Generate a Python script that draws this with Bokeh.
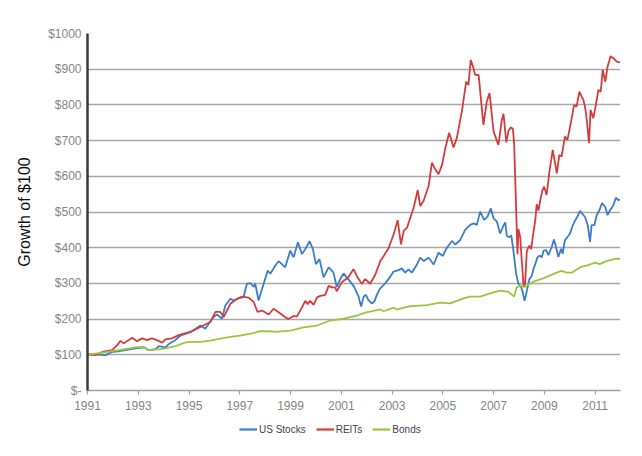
from bokeh.plotting import figure
from bokeh.layouts import column
from bokeh.models import FixedTicker, Legend, LegendItem, Range1d
from bokeh.embed import file_html
from bokeh.resources import INLINE

# ---------------- data ----------------
stocks_t = [1991.0, 1991.3, 1991.71, 1991.97, 1992.25, 1992.5, 1992.89, 1993.22, 1993.41, 1993.68,
            1993.81, 1994.07, 1994.2, 1994.46, 1994.66, 1994.83, 1995.1, 1995.45, 1995.64, 1995.97,
            1996.1, 1996.3, 1996.43, 1996.63, 1996.76, 1996.96, 1997.15, 1997.28, 1997.42, 1997.55,
            1997.61, 1997.74, 1997.94, 1998.1, 1998.2, 1998.4, 1998.53, 1998.66, 1998.79, 1998.99,
            1999.12, 1999.29, 1999.45, 1999.58, 1999.75, 1999.88, 2000.0, 2000.14, 2000.3, 2000.5,
            2000.69, 2000.82, 2001.0, 2001.09, 2001.35, 2001.5, 2001.68, 2001.78, 2001.88, 2001.97,
            2002.07, 2002.2, 2002.3, 2002.4, 2002.53, 2002.73, 2002.93, 2003.06, 2003.25, 2003.38,
            2003.52, 2003.65, 2003.78, 2003.98, 2004.11, 2004.24, 2004.44, 2004.64, 2004.83, 2005.0,
            2005.16, 2005.36, 2005.49, 2005.68, 2005.88, 2006.08, 2006.21, 2006.34, 2006.47, 2006.63,
            2006.76, 2006.89, 2007.0, 2007.13, 2007.26, 2007.39, 2007.46, 2007.52, 2007.6, 2007.7,
            2007.78, 2007.89, 2007.98, 2008.07, 2008.15, 2008.22, 2008.31, 2008.41, 2008.5, 2008.57,
            2008.64, 2008.73, 2008.81, 2008.9, 2008.97, 2009.07, 2009.16, 2009.29, 2009.38, 2009.49,
            2009.55, 2009.66, 2009.72, 2009.81, 2009.91, 2010.01, 2010.12, 2010.22, 2010.33, 2010.4,
            2010.5, 2010.6, 2010.71, 2010.8, 2010.86, 2010.97, 2011.06, 2011.17, 2011.27, 2011.4,
            2011.49, 2011.59, 2011.72, 2011.82, 2011.91, 2011.98]
stocks_v = [100, 101, 99, 108, 110, 113, 118, 121, 113, 116,
            124, 121, 130, 141, 154, 158, 165, 182, 173, 206,
            213, 201, 238, 257, 252, 258, 262, 299, 301, 290,
            299, 252, 299, 336, 327, 350, 362, 354, 345, 392,
            373, 415, 382, 396, 418, 396, 354, 368, 317, 345,
            331, 290, 318, 328, 305, 291, 263, 235, 263, 268,
            253, 244, 249, 268, 286, 300, 319, 333, 337, 342,
            330, 339, 330, 353, 372, 363, 372, 353, 386, 377,
            400, 419, 409, 421, 450, 464, 468, 464, 501, 478,
            487, 510, 482, 473, 440, 462, 471, 434, 429, 434,
            392, 326, 298, 293, 275, 251, 279, 312, 321, 340,
            354, 373, 378, 373, 392, 393, 379, 402, 423, 393,
            374, 397, 383, 421, 430, 439, 463, 477, 491, 503,
            495, 486, 463, 416, 463, 463, 491, 505, 525, 514,
            491, 505, 519, 540, 533, 535]

reits_t = [1991.0, 1991.05, 1991.31, 1991.58, 1991.97, 1992.17, 1992.3, 1992.43, 1992.76, 1992.95,
           1993.15, 1993.35, 1993.54, 1993.74, 1993.94, 1994.07, 1994.33, 1994.59, 1994.83, 1995.05,
           1995.45, 1995.84, 1996.04, 1996.23, 1996.37, 1996.63, 1996.89, 1997.09, 1997.35, 1997.55,
           1997.7, 1997.88, 1998.14, 1998.33, 1998.53, 1998.79, 1998.92, 1999.12, 1999.25, 1999.45,
           1999.58, 1999.67, 1999.77, 1999.91, 2000.04, 2000.17, 2000.37, 2000.5, 2000.63, 2000.76,
           2000.82, 2001.02, 2001.28, 2001.48, 2001.64, 2001.81, 2001.94, 2002.14, 2002.34, 2002.54,
           2002.67, 2002.87, 2003.06, 2003.22, 2003.35, 2003.46, 2003.59, 2003.74, 2003.85, 2004.01,
           2004.11, 2004.24, 2004.44, 2004.57, 2004.70, 2004.83, 2004.97, 2005.1, 2005.25, 2005.42,
           2005.55, 2005.75, 2005.92, 2006.01, 2006.1, 2006.21, 2006.27, 2006.41, 2006.6, 2006.73,
           2006.84, 2007.0, 2007.19, 2007.32, 2007.39, 2007.5, 2007.59, 2007.68, 2007.76, 2007.81,
           2007.89, 2007.94, 2007.98, 2008.05, 2008.11, 2008.18, 2008.24, 2008.31, 2008.41, 2008.48,
           2008.57, 2008.64, 2008.7, 2008.77, 2008.83, 2008.92, 2008.99, 2009.09, 2009.2,
           2009.33, 2009.49, 2009.59, 2009.68, 2009.81, 2009.91, 2010.08, 2010.17, 2010.27, 2010.38,
           2010.47, 2010.54, 2010.61, 2010.67, 2010.76, 2010.82, 2010.93, 2011.03, 2011.13, 2011.22,
           2011.3, 2011.4, 2011.49, 2011.61, 2011.72, 2011.85, 2011.98]
reits_v = [100, 102, 99, 108, 113, 127, 139, 132, 148, 138,
           146, 141, 146, 141, 134, 143, 146, 155, 160, 164,
           178, 192, 220, 220, 206, 243, 257, 263, 260, 248,
           220, 224, 213, 229, 219, 205, 200, 209, 207, 233,
           251, 242, 251, 240, 261, 265, 268, 293, 289, 289,
           278, 303, 317, 340, 317, 298, 312, 299, 325, 363,
           377, 400, 437, 477, 409, 447, 456, 489, 512, 561,
           517, 531, 573, 638, 620, 606, 632, 680, 722, 681,
           707, 781, 865, 856, 926, 903, 884, 884, 744, 809,
           833, 725, 688, 756, 775, 695, 728, 737, 733, 691,
           504, 382, 452, 429, 364, 293, 298, 392, 406, 396,
           443, 476, 522, 504, 530, 560, 571, 548, 613,
           674, 608, 660, 655, 711, 702, 763, 800, 795, 837,
           823, 814, 791, 758, 693, 786, 763, 800, 842, 837,
           898, 865, 907, 936, 931, 921, 919]

bonds_t = [1991.0, 1991.58, 1992.24, 1992.89, 1993.22, 1993.41, 1993.81, 1994.07, 1994.46, 1994.83,
           1995.05, 1995.45, 1995.84, 1996.23, 1996.63, 1997.02, 1997.42, 1997.81, 1998.2, 1998.4,
           1998.99, 1999.51, 2000.04, 2000.56, 2001.09, 2001.61, 2001.94, 2002.54, 2002.67, 2003.06,
           2003.19, 2003.72, 2004.37, 2004.9, 2005.29, 2005.81, 2006.08, 2006.47, 2006.86, 2007.26,
           2007.59, 2007.81, 2007.91, 2008.05, 2008.24, 2008.57, 2008.96, 2009.22, 2009.49, 2009.68,
           2009.88, 2010.08, 2010.27, 2010.47, 2010.67, 2010.8, 2011.0, 2011.19, 2011.39, 2011.59,
           2011.78, 2011.98]
bonds_v = [100, 106, 113, 121, 122, 113, 115, 118, 124, 134,
           136, 136, 140, 145, 150, 154, 159, 166, 166, 164,
           168, 177, 182, 196, 201, 210, 218, 227, 222, 232,
           227, 236, 239, 246, 244, 258, 263, 263, 272, 280,
           276, 263, 289, 293, 290, 305, 314, 322, 330, 335,
           330, 330, 339, 347, 350, 353, 358, 354, 361, 365,
           369, 369]

x_ticks = [1991, 1993, 1995, 1997, 1999, 2001, 2003, 2005, 2007, 2009, 2011]
x_labels = ["1991", "1993", "1995", "1997", "1999", "2001", "2003", "2005", "2007", "2009", "2011"]
y_ticks = [0, 100, 200, 300, 400, 500, 600, 700, 800, 900, 1000]
y_labels = ["$-", "$100", "$200", "$300", "$400", "$500", "$600", "$700", "$800", "$900", "$1000"]

series_names = ["US Stocks", "REITs", "Bonds"]
series_colors = ["#3b7dc8", "#d63b3b", "#9cc43e"]

FONT = "Liberation Sans"

p = figure(width=634, height=416, output_backend="svg", toolbar_location=None,
           x_range=Range1d(1991, 2012), y_range=Range1d(0, 1000),
           min_border_left=87, min_border_right=14, min_border_top=33, min_border_bottom=26)
p.outline_line_color = None
p.background_fill_color = "white"

r_stocks = p.line(stocks_t, stocks_v, line_color=series_colors[0], line_width=1.8)
r_reits = p.line(reits_t, reits_v, line_color=series_colors[1], line_width=1.8)
r_bonds = p.line(bonds_t, bonds_v, line_color=series_colors[2], line_width=1.8)

# y axis
yax = p.yaxis[0]
yax.ticker = FixedTicker(ticks=y_ticks)
yax.major_label_overrides = {t: l for t, l in zip(y_ticks, y_labels)}
yax.major_tick_line_color = None
yax.major_tick_out = 0
yax.major_tick_in = 0
yax.minor_tick_line_color = None
yax.axis_line_color = "#3a3a3a"
yax.axis_line_width = 2.5
yax.major_label_text_color = "#858585"
yax.major_label_text_font = FONT
yax.major_label_text_font_size = "12px"
yax.major_label_standoff = 6
yax.axis_label = "Growth of $100"
yax.axis_label_text_font = FONT
yax.axis_label_text_font_size = "16px"
yax.axis_label_text_font_style = "normal"
yax.axis_label_text_color = "#111111"
yax.axis_label_standoff = 12

# x axis
xax = p.xaxis[0]
xax.ticker = FixedTicker(ticks=x_ticks)
xax.major_label_overrides = {t: l for t, l in zip(x_ticks, x_labels)}
xax.axis_line_color = "#a0a0a0"
xax.axis_line_width = 1.5
xax.major_tick_line_color = "#a0a0a0"
xax.major_tick_line_width = 1.2
xax.major_tick_out = 4
xax.major_tick_in = 0
xax.minor_tick_line_color = None
xax.major_label_text_color = "#858585"
xax.major_label_text_font = FONT
xax.major_label_text_font_size = "12px"
xax.major_label_standoff = 6

p.xgrid.grid_line_color = None
p.ygrid.ticker = FixedTicker(ticks=y_ticks)
p.ygrid.grid_line_color = "#a8a8a8"
p.ygrid.grid_line_width = 1.3

# ---------------- legend strip below the chart ----------------
lg = figure(width=634, height=30, output_backend="svg", toolbar_location=None,
            x_range=Range1d(0, 1), y_range=Range1d(0, 1),
            x_axis_location=None, y_axis_location=None, min_border=0)
lg.outline_line_color = None
lg.grid.visible = False
# same series, drawn outside this strip's visible range: only their legend swatches show
proxies = [lg.line(t, v, line_color=c, line_width=2.2)
           for t, v, c in zip([stocks_t, reits_t, bonds_t], [stocks_v, reits_v, bonds_v], series_colors)]

legend = Legend(items=[LegendItem(label=n, renderers=[r]) for n, r in zip(series_names, proxies)],
                orientation="horizontal", location=(152, 11),
                glyph_width=18, glyph_height=12, label_standoff=2, spacing=10,
                padding=0, margin=0, border_line_color=None, background_fill_alpha=0,
                label_text_font=FONT, label_text_font_size="10px", label_text_color="#444444")
lg.add_layout(legend)

layout = column(p, lg, spacing=0)
open("out.html", "w").write(file_html(layout, INLINE))
